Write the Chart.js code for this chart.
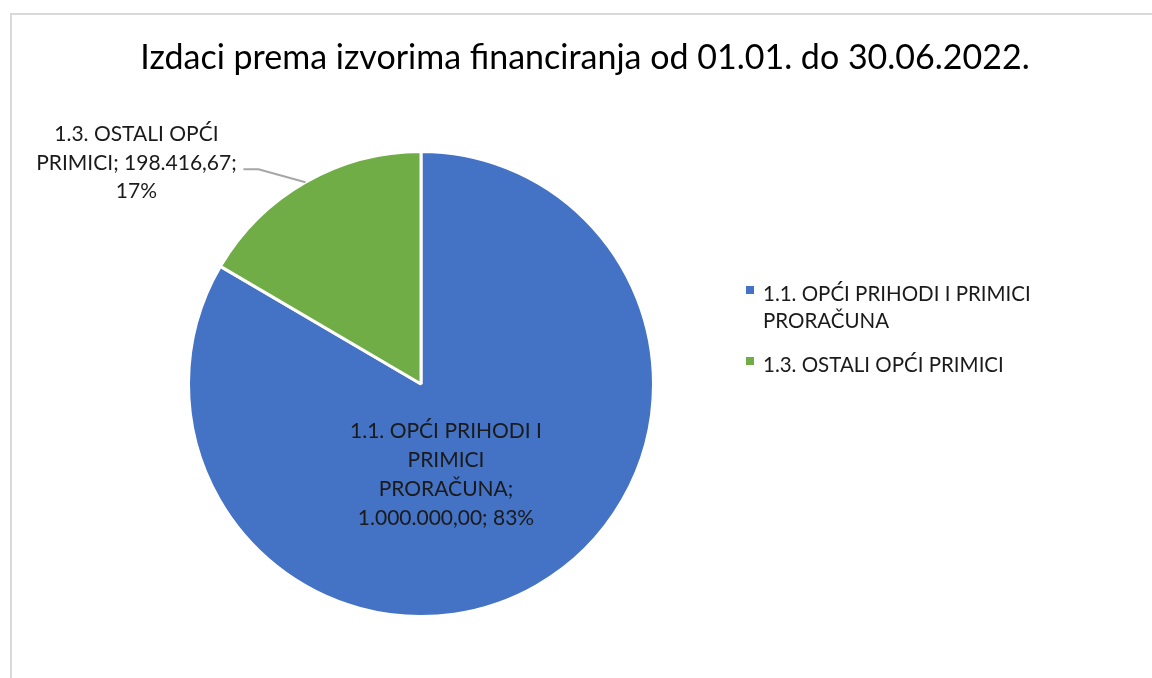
<!DOCTYPE html>
<html>
<head>
<meta charset="utf-8">
<script src="https://cdn.jsdelivr.net/npm/chart.js@4.4.0/dist/chart.umd.min.js"></script>
<style>
  html, body { margin: 0; padding: 0; background: #fff; }
  canvas { display: block; }
</style>
</head>
<body>
<canvas id="pie" width="1152" height="678"></canvas>
<script>
// Data
const chartTitle = 'Izdaci prema izvorima financiranja od 01.01. do 30.06.2022.';
const categories = ['1.1. OPĆI PRIHODI I PRIMICI PRORAČUNA', '1.3. OSTALI OPĆI PRIMICI'];
const legendLines = [['1.1. OPĆI PRIHODI I PRIMICI', 'PRORAČUNA'], ['1.3. OSTALI OPĆI PRIMICI']];
const amounts = [1000000.00, 198416.67];
const sliceColors = ['#4472C4', '#70AD47'];

const FONT = 'Lato, "Open Sans", sans-serif';
const total = amounts.reduce((a, b) => a + b, 0);

// 1234567.8 -> 1.234.567,80
function fmtHr(v) {
  const parts = v.toFixed(2).split('.');
  return parts[0].replace(/\B(?=(\d{3})+(?!\d))/g, '.') + ',' + parts[1];
}
function pct(i) {
  return Math.round(amounts[i] / total * 100) + '%';
}

// Data label lines, wrapped like the original
const labelLines = [
  ['1.1. OPĆI PRIHODI I', 'PRIMICI', 'PRORAČUNA;', fmtHr(amounts[0]) + '; ' + pct(0)],
  ['1.3. OSTALI OPĆI', 'PRIMICI; ' + fmtHr(amounts[1]) + ';', pct(1)]
];

const decorations = {
  id: 'decorations',
  afterDraw(chart) {
    const ctx = chart.ctx;
    ctx.save();

    // frame
    ctx.strokeStyle = '#d9d9d9';
    ctx.lineWidth = 2;
    ctx.strokeRect(11, 14, 1160, 700);

    // title
    ctx.fillStyle = '#000';
    ctx.font = '34px ' + FONT;
    ctx.textAlign = 'center';
    ctx.textBaseline = 'alphabetic';
    ctx.fillText(chartTitle, 585, 69);

    // legend
    ctx.font = '20.5px ' + FONT;
    ctx.textAlign = 'left';
    let y = 301;
    legendLines.forEach((lines, i) => {
      ctx.fillStyle = sliceColors[i];
      ctx.fillRect(746, y - 15, 8, 8);
      ctx.fillStyle = '#1a1a1a';
      lines.forEach((ln, j) => {
        ctx.fillText(ln, 763, y + j * 27);
      });
      y += lines.length * 27 + 17;
    });

    // data labels
    const arcs = chart.getDatasetMeta(0).data;
    ctx.font = '21px ' + FONT;
    ctx.textAlign = 'center';
    ctx.fillStyle = '#1a1a1a';

    // inside label for the big slice
    const a0 = arcs[0];
    labelLines[0].forEach((ln, j) => {
      ctx.fillText(ln, a0.x + 25, a0.y + 54 + j * 29);
    });

    // outside label with leader line for the small slice
    const a1 = arcs[1];
    const mid = (a1.startAngle + a1.endAngle) / 2;
    const px = a1.x + Math.cos(mid) * a1.outerRadius;
    const py = a1.y + Math.sin(mid) * a1.outerRadius;
    ctx.strokeStyle = '#a6a6a6';
    ctx.lineWidth = 2;
    ctx.beginPath();
    ctx.moveTo(px, py);
    ctx.lineTo(px - 47, py - 13);
    ctx.lineTo(px - 62, py - 13);
    ctx.stroke();
    labelLines[1].forEach((ln, j) => {
      ctx.fillText(ln, px - 169, py - 41 + j * 28.5);
    });

    ctx.restore();
  }
};

new Chart(document.getElementById('pie').getContext('2d'), {
  type: 'pie',
  data: {
    labels: categories,
    datasets: [{
      data: amounts,
      backgroundColor: sliceColors,
      borderColor: '#ffffff',
      borderWidth: 3
    }]
  },
  options: {
    responsive: false,
    animation: false,
    layout: { padding: { top: 150, bottom: 60, left: 187, right: 497 } },
    plugins: {
      legend: { display: false },
      title: { display: false },
      tooltip: { enabled: false }
    }
  },
  plugins: [decorations]
});
</script>
</body>
</html>
